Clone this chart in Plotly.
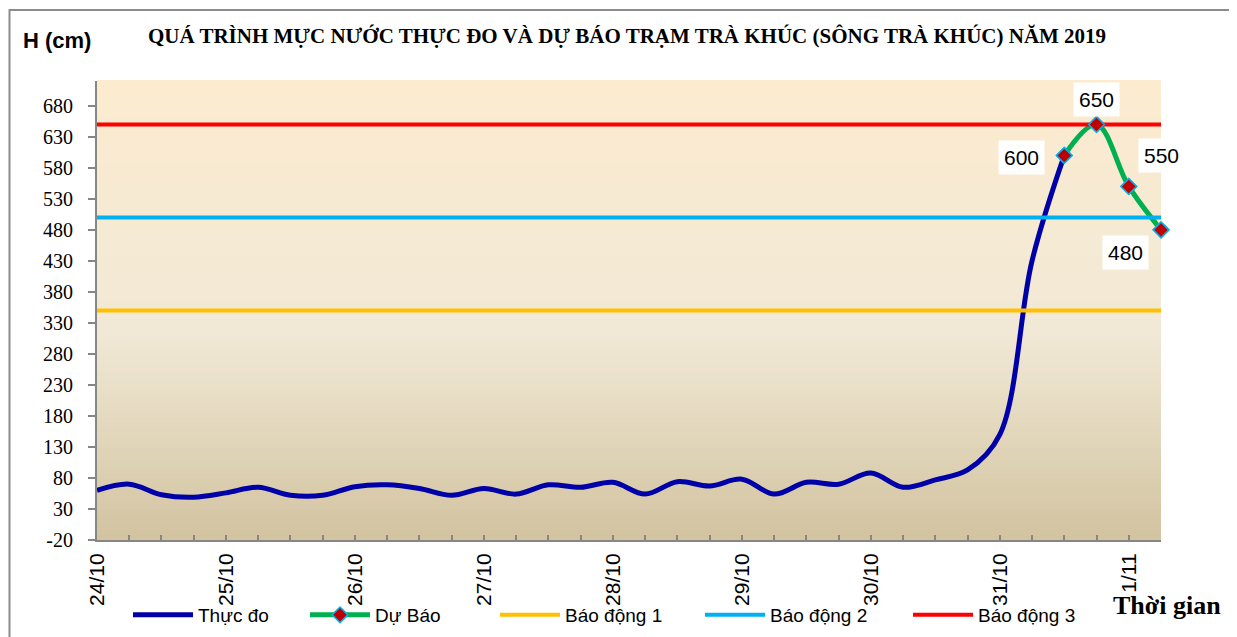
import plotly.graph_objects as go

# ---------------- data ----------------
day_labels = ["24/10", "25/10", "26/10", "27/10", "28/10", "29/10", "30/10", "31/10", "1/11"]
steps_per_day = 4  # 6-hourly observations

observed_name = "Thực đo"
observed_values = [60, 70, 53, 49, 56, 65, 52, 52, 66, 69, 63, 52, 63, 54, 69, 65,
                   73, 54, 74, 67, 78, 54, 73, 70, 88, 65, 77, 93, 150, 430, 600]

forecast_name = "Dự Báo"
forecast_values = [600, 650, 550, 480]

alarm_names = ["Báo động 1", "Báo động 2", "Báo động 3"]
alarm_levels = [350, 500, 650]

y_ticks = list(range(-20, 681, 50))
y_ticklabels = [str(v) for v in y_ticks]

title_text = "QUÁ TRÌNH MỰC NƯỚC THỰC ĐO VÀ DỰ BÁO TRẠM TRÀ KHÚC (SÔNG TRÀ KHÚC) NĂM 2019"
y_title = "H (cm)"
x_title = "Thời gian"

# ---------------- styling ----------------
OFF = 8  # page body margin offset
W, H = 1237 - OFF, 637 - OFF
# plot area in screen coordinates
L, R, T, B = 97, 1161, 81, 540
SERIF = "Liberation Serif, Times New Roman, serif"
SANS = "Liberation Sans, Arial, sans-serif"
alarm_colors = ["#FFC000", "#00B0F0", "#FF0000"]
obs_color = "#0000A8"
fc_color = "#00B050"
label_offsets = [(-43, -2), (0, 25), (33, 31), (-36, -23)]
legend_starts = [128, 305, 495, 700, 908]


def px_x(p):
    return (p - L) / (R - L)


def px_y(p):
    return (B - p) / (B - T)


obs_x = list(range(len(observed_values)))
fc_x = list(range(len(observed_values) - 1, len(observed_values) - 1 + len(forecast_values)))
n_total = fc_x[-1] + 1
x_min, x_max = 0, n_total - 1

tickvals = list(range(n_total))
ticktext = [day_labels[i // steps_per_day] if i % steps_per_day == 0 and i // steps_per_day < len(day_labels) else ""
            for i in tickvals]

fig = go.Figure()

fig.add_trace(go.Scatter(
    x=obs_x, y=observed_values, mode="lines", name=observed_name,
    line=dict(color=obs_color, width=5, shape="spline", smoothing=1.0),
    legend="legend",
))
fig.add_trace(go.Scatter(
    x=fc_x, y=forecast_values, mode="lines+markers", name=forecast_name,
    line=dict(color=fc_color, width=5, shape="spline", smoothing=1.0),
    marker=dict(symbol="diamond", size=12, color="#C00000", line=dict(color="#00B0F0", width=1.5)),
    cliponaxis=False, legend="legend2",
))
for i, (nm, lv) in enumerate(zip(alarm_names, alarm_levels)):
    fig.add_trace(go.Scatter(
        x=[x_min, x_max], y=[lv, lv], mode="lines", name=nm,
        line=dict(color=alarm_colors[i], width=4),
        legend="legend%d" % (i + 3),
    ))
# forecast markers on top of threshold lines
fig.add_trace(go.Scatter(
    x=fc_x, y=forecast_values, mode="markers", showlegend=False, hoverinfo="skip",
    marker=dict(symbol="diamond", size=12, color="#C00000", line=dict(color="#00B0F0", width=1.5)),
    cliponaxis=False,
))

# data labels
for (xv, yv), (dx, dy) in zip(zip(fc_x, forecast_values), label_offsets):
    fig.add_annotation(x=xv, y=yv, text=str(yv), showarrow=False, xshift=dx, yshift=dy,
                       bgcolor="white", borderpad=5,
                       font=dict(family=SANS, size=21, color="black"))

# gradient background
def hex2rgb(h):
    h = h.lstrip("#")
    return tuple(int(h[i:i + 2], 16) for i in (0, 2, 4))


stops = [(0.0, hex2rgb("#D2C3A0")), (0.45, hex2rgb("#F1E9D6")), (1.0, hex2rgb("#FCEBCF"))]


def grad(t):
    for (t0, c0), (t1, c1) in zip(stops[:-1], stops[1:]):
        if t <= t1:
            f = (t - t0) / (t1 - t0)
            return "rgb(%d,%d,%d)" % tuple(round(a + (b - a) * f) for a, b in zip(c0, c1))
    return "rgb(%d,%d,%d)" % stops[-1][1]


shapes = []
N = 90
for k in range(N):
    shapes.append(dict(type="rect", xref="paper", yref="paper", x0=0, x1=1,
                       y0=k / N, y1=(k + 1) / N + 0.002, fillcolor=grad((k + 0.5) / N),
                       line=dict(width=0), layer="below"))
# outer chart border
shapes.append(dict(type="rect", xref="paper", yref="paper",
                   x0=px_x(OFF + 1.5), x1=px_x(1300), y0=px_y(700), y1=px_y(10),
                   line=dict(color="#8C8C8C", width=2), fillcolor="rgba(0,0,0,0)", layer="below"))

fig.add_annotation(xref="paper", yref="paper", x=px_x(57), y=px_y(40), xanchor="center", yanchor="middle",
                   text="<b>%s</b>" % y_title,
                   showarrow=False, font=dict(family=SANS, size=22, color="black"))
fig.add_annotation(xref="paper", yref="paper", x=px_x(1167), y=px_y(605), xanchor="center", yanchor="middle",
                   text="<b>%s</b>" % x_title,
                   showarrow=False, font=dict(family=SERIF, size=26, color="black"))

legend_common = dict(orientation="h", yanchor="middle", y=px_y(615), xanchor="left",
                     bgcolor="rgba(0,0,0,0)", font=dict(family=SANS, size=19, color="black"),
                     itemwidth=60, borderwidth=0)
legends = {}
for j, key in enumerate(["legend", "legend2", "legend3", "legend4", "legend5"]):
    legends[key] = dict(legend_common, x=px_x(legend_starts[j]))

fig.update_layout(
    width=W, height=H, autosize=False,
    margin=dict(l=L - OFF, r=W - (R - OFF), t=T - OFF, b=H - (B - OFF), autoexpand=False),
    paper_bgcolor="white", plot_bgcolor="rgba(0,0,0,0)",
    title=dict(text="<b>%s</b>" % title_text, x=(627 - OFF) / W, xanchor="center",
               y=1 - (36 - OFF) / H, yanchor="middle",
               font=dict(family=SERIF, size=21, color="black")),
    shapes=shapes,
    showlegend=True,
    xaxis=dict(range=[x_min, x_max], tickmode="array", tickvals=tickvals, ticktext=ticktext,
               tickangle=-90, ticks="inside", ticklen=5, tickcolor="#868686", tickwidth=1.5,
               showline=True, linecolor="#868686", linewidth=2, showgrid=False, zeroline=False,
               tickfont=dict(family=SANS, size=21, color="black"), ticklabelstandoff=3),
    yaxis=dict(range=[-20, 720], tickmode="array", tickvals=y_ticks, ticktext=y_ticklabels,
               ticks="outside", ticklen=7, tickcolor="#868686", tickwidth=1.5,
               showline=True, linecolor="#868686", linewidth=2, showgrid=False, zeroline=False,
               tickfont=dict(family=SERIF, size=20, color="black"), ticklabelstandoff=11),
    **legends,
)

fig.write_html("out.html")
